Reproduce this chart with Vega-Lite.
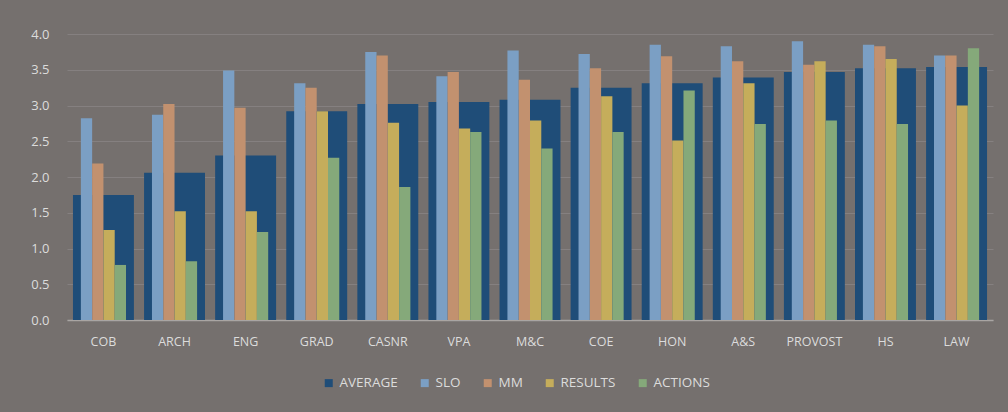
{
  "$schema": "https://vega.github.io/schema/vega-lite/v6.json",
  "width": 926,
  "height": 286,
  "autosize": {"type": "none"},
  "padding": {"left": 67, "top": 34, "right": 15, "bottom": 92},
  "background": "#75706e",
  "config": {
    "view": {"stroke": null},
    "font": "Open Sans",
    "axis": {"labelColor": "#dcdcdc", "labelFont": "Open Sans", "titleColor": "#dcdcdc"},
    "legend": {"labelColor": "#dcdcdc", "labelFont": "Open Sans"}
  },
  "data": {
    "values": [
      {"unit": "COB", "series": "AVERAGE", "value": 1.75},
      {"unit": "COB", "series": "SLO", "value": 2.82},
      {"unit": "COB", "series": "MM", "value": 2.19},
      {"unit": "COB", "series": "RESULTS", "value": 1.26},
      {"unit": "COB", "series": "ACTIONS", "value": 0.77},
      {"unit": "ARCH", "series": "AVERAGE", "value": 2.06},
      {"unit": "ARCH", "series": "SLO", "value": 2.87},
      {"unit": "ARCH", "series": "MM", "value": 3.02},
      {"unit": "ARCH", "series": "RESULTS", "value": 1.52},
      {"unit": "ARCH", "series": "ACTIONS", "value": 0.82},
      {"unit": "ENG", "series": "AVERAGE", "value": 2.3},
      {"unit": "ENG", "series": "SLO", "value": 3.49},
      {"unit": "ENG", "series": "MM", "value": 2.97},
      {"unit": "ENG", "series": "RESULTS", "value": 1.52},
      {"unit": "ENG", "series": "ACTIONS", "value": 1.23},
      {"unit": "GRAD", "series": "AVERAGE", "value": 2.92},
      {"unit": "GRAD", "series": "SLO", "value": 3.31},
      {"unit": "GRAD", "series": "MM", "value": 3.25},
      {"unit": "GRAD", "series": "RESULTS", "value": 2.92},
      {"unit": "GRAD", "series": "ACTIONS", "value": 2.27},
      {"unit": "CASNR", "series": "AVERAGE", "value": 3.02},
      {"unit": "CASNR", "series": "SLO", "value": 3.75},
      {"unit": "CASNR", "series": "MM", "value": 3.7},
      {"unit": "CASNR", "series": "RESULTS", "value": 2.76},
      {"unit": "CASNR", "series": "ACTIONS", "value": 1.86},
      {"unit": "VPA", "series": "AVERAGE", "value": 3.05},
      {"unit": "VPA", "series": "SLO", "value": 3.41},
      {"unit": "VPA", "series": "MM", "value": 3.47},
      {"unit": "VPA", "series": "RESULTS", "value": 2.68},
      {"unit": "VPA", "series": "ACTIONS", "value": 2.63},
      {"unit": "M&C", "series": "AVERAGE", "value": 3.08},
      {"unit": "M&C", "series": "SLO", "value": 3.77},
      {"unit": "M&C", "series": "MM", "value": 3.36},
      {"unit": "M&C", "series": "RESULTS", "value": 2.79},
      {"unit": "M&C", "series": "ACTIONS", "value": 2.4},
      {"unit": "COE", "series": "AVERAGE", "value": 3.25},
      {"unit": "COE", "series": "SLO", "value": 3.72},
      {"unit": "COE", "series": "MM", "value": 3.52},
      {"unit": "COE", "series": "RESULTS", "value": 3.13},
      {"unit": "COE", "series": "ACTIONS", "value": 2.63},
      {"unit": "HON", "series": "AVERAGE", "value": 3.31},
      {"unit": "HON", "series": "SLO", "value": 3.85},
      {"unit": "HON", "series": "MM", "value": 3.69},
      {"unit": "HON", "series": "RESULTS", "value": 2.51},
      {"unit": "HON", "series": "ACTIONS", "value": 3.21},
      {"unit": "A&S", "series": "AVERAGE", "value": 3.39},
      {"unit": "A&S", "series": "SLO", "value": 3.83},
      {"unit": "A&S", "series": "MM", "value": 3.62},
      {"unit": "A&S", "series": "RESULTS", "value": 3.31},
      {"unit": "A&S", "series": "ACTIONS", "value": 2.74},
      {"unit": "PROVOST", "series": "AVERAGE", "value": 3.47},
      {"unit": "PROVOST", "series": "SLO", "value": 3.9},
      {"unit": "PROVOST", "series": "MM", "value": 3.57},
      {"unit": "PROVOST", "series": "RESULTS", "value": 3.62},
      {"unit": "PROVOST", "series": "ACTIONS", "value": 2.79},
      {"unit": "HS", "series": "AVERAGE", "value": 3.52},
      {"unit": "HS", "series": "SLO", "value": 3.85},
      {"unit": "HS", "series": "MM", "value": 3.83},
      {"unit": "HS", "series": "RESULTS", "value": 3.65},
      {"unit": "HS", "series": "ACTIONS", "value": 2.74},
      {"unit": "LAW", "series": "AVERAGE", "value": 3.54},
      {"unit": "LAW", "series": "SLO", "value": 3.7},
      {"unit": "LAW", "series": "MM", "value": 3.7},
      {"unit": "LAW", "series": "RESULTS", "value": 3.0},
      {"unit": "LAW", "series": "ACTIONS", "value": 3.8}
    ]
  },
  "encoding": {
    "x": {
      "field": "unit",
      "type": "nominal",
      "sort": null,
      "scale": {"paddingInner": 0.143, "paddingOuter": 0.084},
      "axis": {
        "title": null,
        "labelAngle": 0,
        "labelFontSize": 12.5,
        "labelPadding": 15,
        "ticks": false,
        "domainColor": "#a9a5a3",
        "domainWidth": 1.5
      }
    },
    "y": {
      "field": "value",
      "type": "quantitative",
      "scale": {"domain": [0, 4]},
      "axis": {
        "title": null,
        "values": [0, 0.5, 1, 1.5, 2, 2.5, 3, 3.5, 4],
        "format": ".1f",
        "labelFontSize": 13,
        "labelPadding": 18,
        "ticks": false,
        "domain": false,
        "gridColor": "#858080",
        "gridWidth": 1
      }
    },
    "color": {
      "field": "series",
      "type": "nominal",
      "scale": {
        "domain": ["AVERAGE", "SLO", "MM", "RESULTS", "ACTIONS"],
        "range": ["#1f4d78", "#7b9fc4", "#c2916f", "#c5ad5b", "#85a97a"]
      },
      "legend": {
        "title": null,
        "orient": "none",
        "direction": "horizontal",
        "legendX": 255,
        "legendY": 342,
        "symbolType": "square",
        "symbolSize": 64,
        "symbolStrokeWidth": 0,
        "symbolOpacity": 1,
        "labelFontSize": 13.5,
        "columnPadding": 20,
        "labelOffset": 4
      }
    }
  },
  "layer": [
    {
      "transform": [{"filter": "datum.series === 'AVERAGE'"}],
      "mark": {"type": "bar", "opacity": 1}
    },
    {
      "transform": [{"filter": "datum.series !== 'AVERAGE'"}],
      "mark": {"type": "bar", "opacity": 1},
      "encoding": {
        "xOffset": {
          "field": "series",
          "type": "nominal",
          "sort": ["SLO", "MM", "RESULTS", "ACTIONS"],
          "scale": {"paddingInner": 0, "paddingOuter": 0.7}
        }
      }
    }
  ]
}
